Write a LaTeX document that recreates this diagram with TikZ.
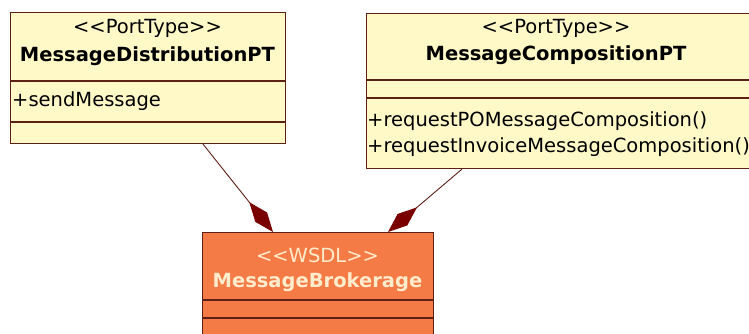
\documentclass[tikz,border=0pt]{standalone}
\usepackage{fontspec}
\setmainfont{DejaVu Sans}[Ligatures=TeXOff]
\usetikzlibrary{arrows.meta, positioning, calc}
\definecolor{ptYellow}{RGB}{255,249,200}
\definecolor{ptBorder}{RGB}{92,32,20}
\definecolor{wsdlOrange}{RGB}{244,122,70}
\definecolor{wsdlText}{RGB}{255,236,204}
\colorlet{compRed}{red!48!black}
\newcommand{\stereotag}[1]{<\kern0pt<#1>\kern0pt>}

\tikzset{
  umlbox/.style={draw=ptBorder, line width=1.1pt, inner sep=0pt, anchor=north west},
  umltext/.style={font=\fontsize{19.5}{23}\selectfont, inner sep=0pt, anchor=base},
  umlname/.style={umltext, font=\fontsize{19.5}{23}\selectfont\bfseries},
  compose/.style={draw=ptBorder, line width=0.9pt,
    -{Diamond[length=38pt, width=15pt, fill=compRed, color=compRed]}}
}

\begin{document}
\begin{tikzpicture}[x=1pt, y=-1pt]
    \useasboundingbox (0,0) rectangle (749,334);
    % port types
    \node[umlbox, fill=ptYellow, minimum width=275pt, minimum height=131pt] (distPT) at (10,12) {};
    \draw[ptBorder, line width=1.1pt] (10,81) -- (285,81);
    \draw[ptBorder, line width=1.1pt] (10,122) -- (285,122);
    \node[umltext] (distStereo) at (147.5,34) {\stereotag{PortType}};
    \node[umlname] (distName) at (147.5,62) {MessageDistributionPT};
    \node[umltext, anchor=base west] (distOp) at (12,107) {+sendMessage};

    \node[umlbox, fill=ptYellow, minimum width=390pt, minimum height=155pt] (compPT) at (366,13) {};
    \draw[ptBorder, line width=1.1pt] (366,80) -- (756,80);
    \draw[ptBorder, line width=1.1pt] (366,98) -- (756,98);
    \node[umltext] (compStereo) at (556,34) {\stereotag{PortType}};
    \node[umlname] (compName) at (556,61) {MessageCompositionPT};
    \node[umltext, anchor=base west] (compOpA) at (367,127) {+requestPOMessageComposition()};
    \node[umltext, anchor=base west] (compOpB) at (367,152) {+requestInvoiceMessageComposition()};

    % wsdl
    \node[umlbox, fill=wsdlOrange, minimum width=231pt, minimum height=115pt] (broker) at (202,232) {};
    \draw[ptBorder, line width=1.1pt] (202,300) -- (433,300);
    \draw[ptBorder, line width=1.1pt] (202,318) -- (433,318);
    \node[umltext, text=wsdlText] (brokerStereo) at (317.5,262) {\stereotag{WSDL}};
    \node[umlname, text=wsdlText] (brokerName) at (317.5,287) {MessageBrokerage};

    % compositions
    \draw[compose] ([xshift=193pt]distPT.south west) -- ([xshift=71pt]broker.north west);
    \draw[compose] ([xshift=96pt]compPT.south west) -- ([xshift=186pt]broker.north west);
\end{tikzpicture}
\end{document}
